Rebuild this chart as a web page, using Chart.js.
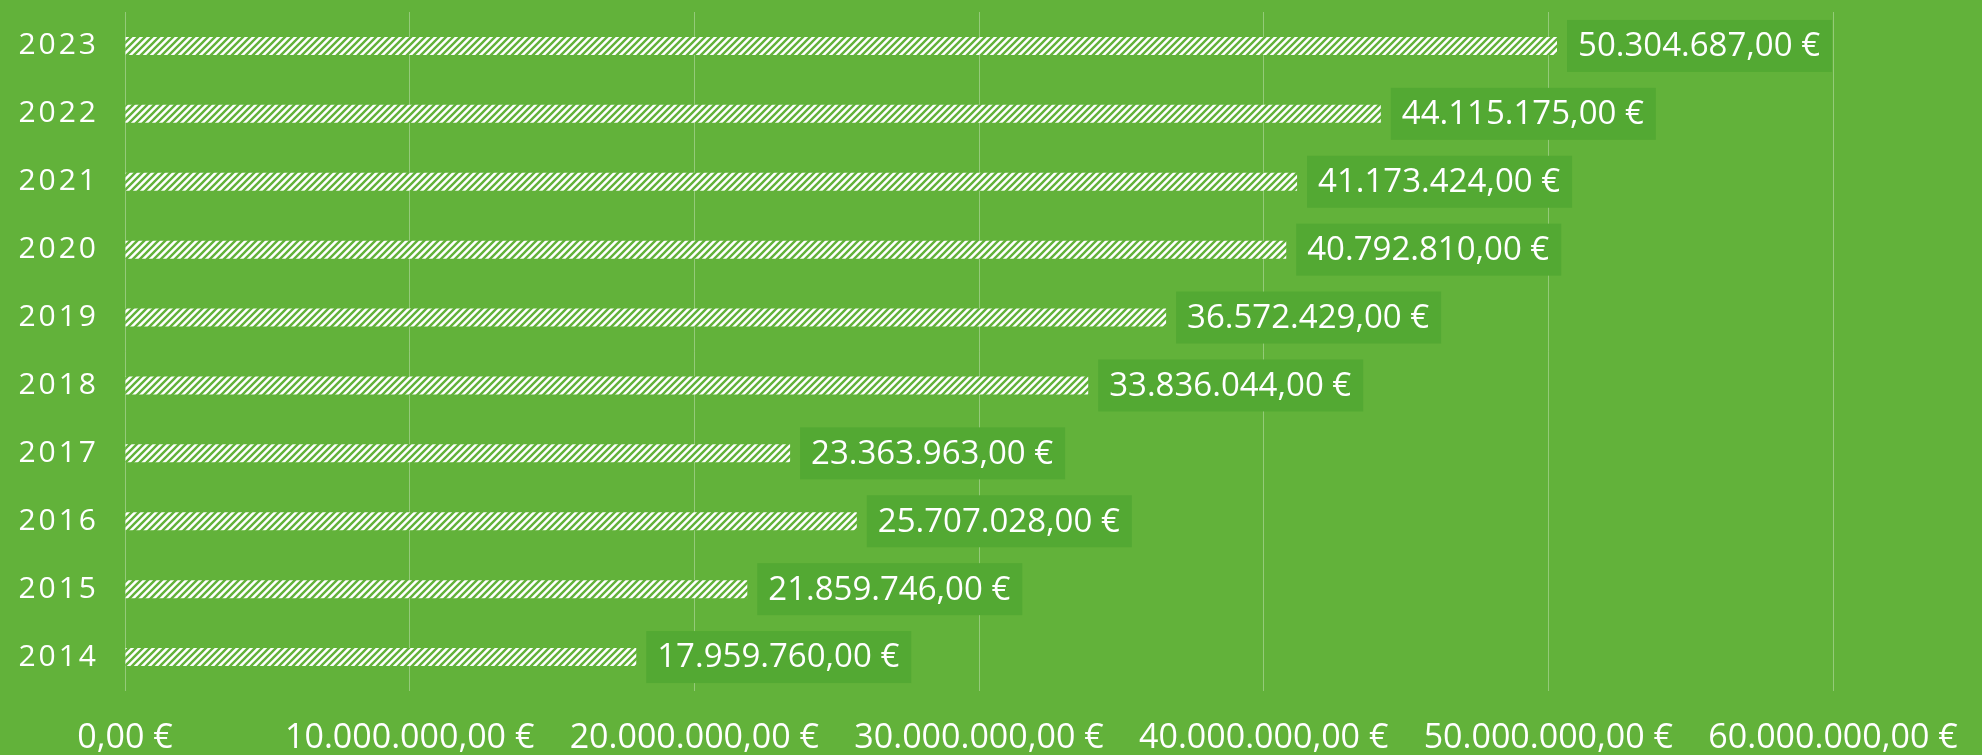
<!DOCTYPE html>
<html>
<head>
<meta charset="utf-8">
<script src="https://cdn.jsdelivr.net/npm/chart.js@4/dist/chart.umd.min.js"></script>
<style>
html,body{margin:0;padding:0;background:#62b23a;}
#wrap{width:1982px;height:755px;position:relative;}
</style>
</head>
<body>
<div id="wrap"><canvas id="c" width="1982" height="755"></canvas></div>
<script>
const years = ['2023','2022','2021','2020','2019','2018','2017','2016','2015','2014'];
const amounts = [50304687, 44115175, 41173424, 40792810, 36572429, 33836044, 23363963, 25707028, 21859746, 17959760];
const axisMax = 60000000;
const axisStep = 10000000;

const BG = '#62b23a';
const BOX = '#53a933';
const FONT = "'Open Sans', sans-serif";

function euro(v){
  const s = Math.round(v).toString().replace(/\B(?=(\d{3})+(?!\d))/g,'.');
  return s + ',00 €';
}
function spaced(t){ return t.split('').join('\u200A'); }

function makePattern(){
  const size = 7;
  const p = document.createElement('canvas');
  p.width = size; p.height = size;
  const g = p.getContext('2d');
  g.fillStyle = '#ffffff';
  g.fillRect(0,0,size,size);
  g.strokeStyle = BG;
  g.lineWidth = 2.4;
  g.beginPath();
  g.moveTo(-1, size+1); g.lineTo(size+1, -1);
  g.moveTo(-1 - size, size+1); g.lineTo(1, -1);
  g.moveTo(size-1, size+1); g.lineTo(2*size+1, -1);
  g.stroke();
  return g.createPattern(p,'repeat');
}

const bgPlugin = {
  id:'bg',
  beforeDraw(chart){
    const ctx = chart.ctx;
    ctx.save(); ctx.fillStyle = BG; ctx.fillRect(0,0,chart.width,chart.height); ctx.restore();
  }
};

const labelPlugin = {
  id:'valueLabels',
  afterDatasetsDraw(chart){
    const ctx = chart.ctx;
    const meta = chart.getDatasetMeta(0);
    ctx.save();
    ctx.font = "33px " + FONT;
    ctx.textBaseline = 'middle';
    ctx.textAlign = 'left';
    meta.data.forEach((bar,i)=>{
      const txt = euro(amounts[i]);
      const w = ctx.measureText(txt).width;
      const x0 = bar.x + 10;
      const h = 52;
      ctx.fillStyle = BOX;
      ctx.fillRect(x0, bar.y - h/2, w + 23, h);
      ctx.fillStyle = '#ffffff';
      ctx.fillText(txt, x0 + 11, bar.y + 1);
    });
    ctx.restore();
  }
};

const ctx = document.getElementById('c').getContext('2d');
new Chart(ctx, {
  type:'bar',
  data:{
    labels: years.map(spaced),
    datasets:[{
      data: amounts,
      backgroundColor: makePattern(),
      borderWidth:0,
      barPercentage:0.53,
      categoryPercentage:0.5
    }]
  },
  options:{
    indexAxis:'y',
    responsive:false,
    animation:false,
    devicePixelRatio:1,
    layout:{padding:{top:12,right:149,left:0,bottom:0}},
    plugins:{legend:{display:false},tooltip:{enabled:false}},
    scales:{
      x:{
        min:0, max:axisMax,
        ticks:{stepSize:axisStep, color:'#ffffff', font:{family:FONT,size:34}, padding:27, maxRotation:0, autoSkip:false,
          callback:(v)=>euro(v)},
        grid:{color:'rgba(255,255,255,0.32)', lineWidth:1, drawTicks:false},
        border:{display:false},
        afterFit(scale){ scale.height = 64; scale.paddingLeft = 0; scale.paddingRight = 0; }
      },
      y:{
        ticks:{color:'#ffffff', font:{family:FONT,size:30}, padding:29},
        grid:{display:false, drawTicks:false},
        border:{display:false},
        afterFit(scale){ scale.width = 125; scale.paddingTop = 0; scale.paddingBottom = 0; }
      }
    }
  },
  plugins:[bgPlugin, labelPlugin]
});
</script>
</body>
</html>
